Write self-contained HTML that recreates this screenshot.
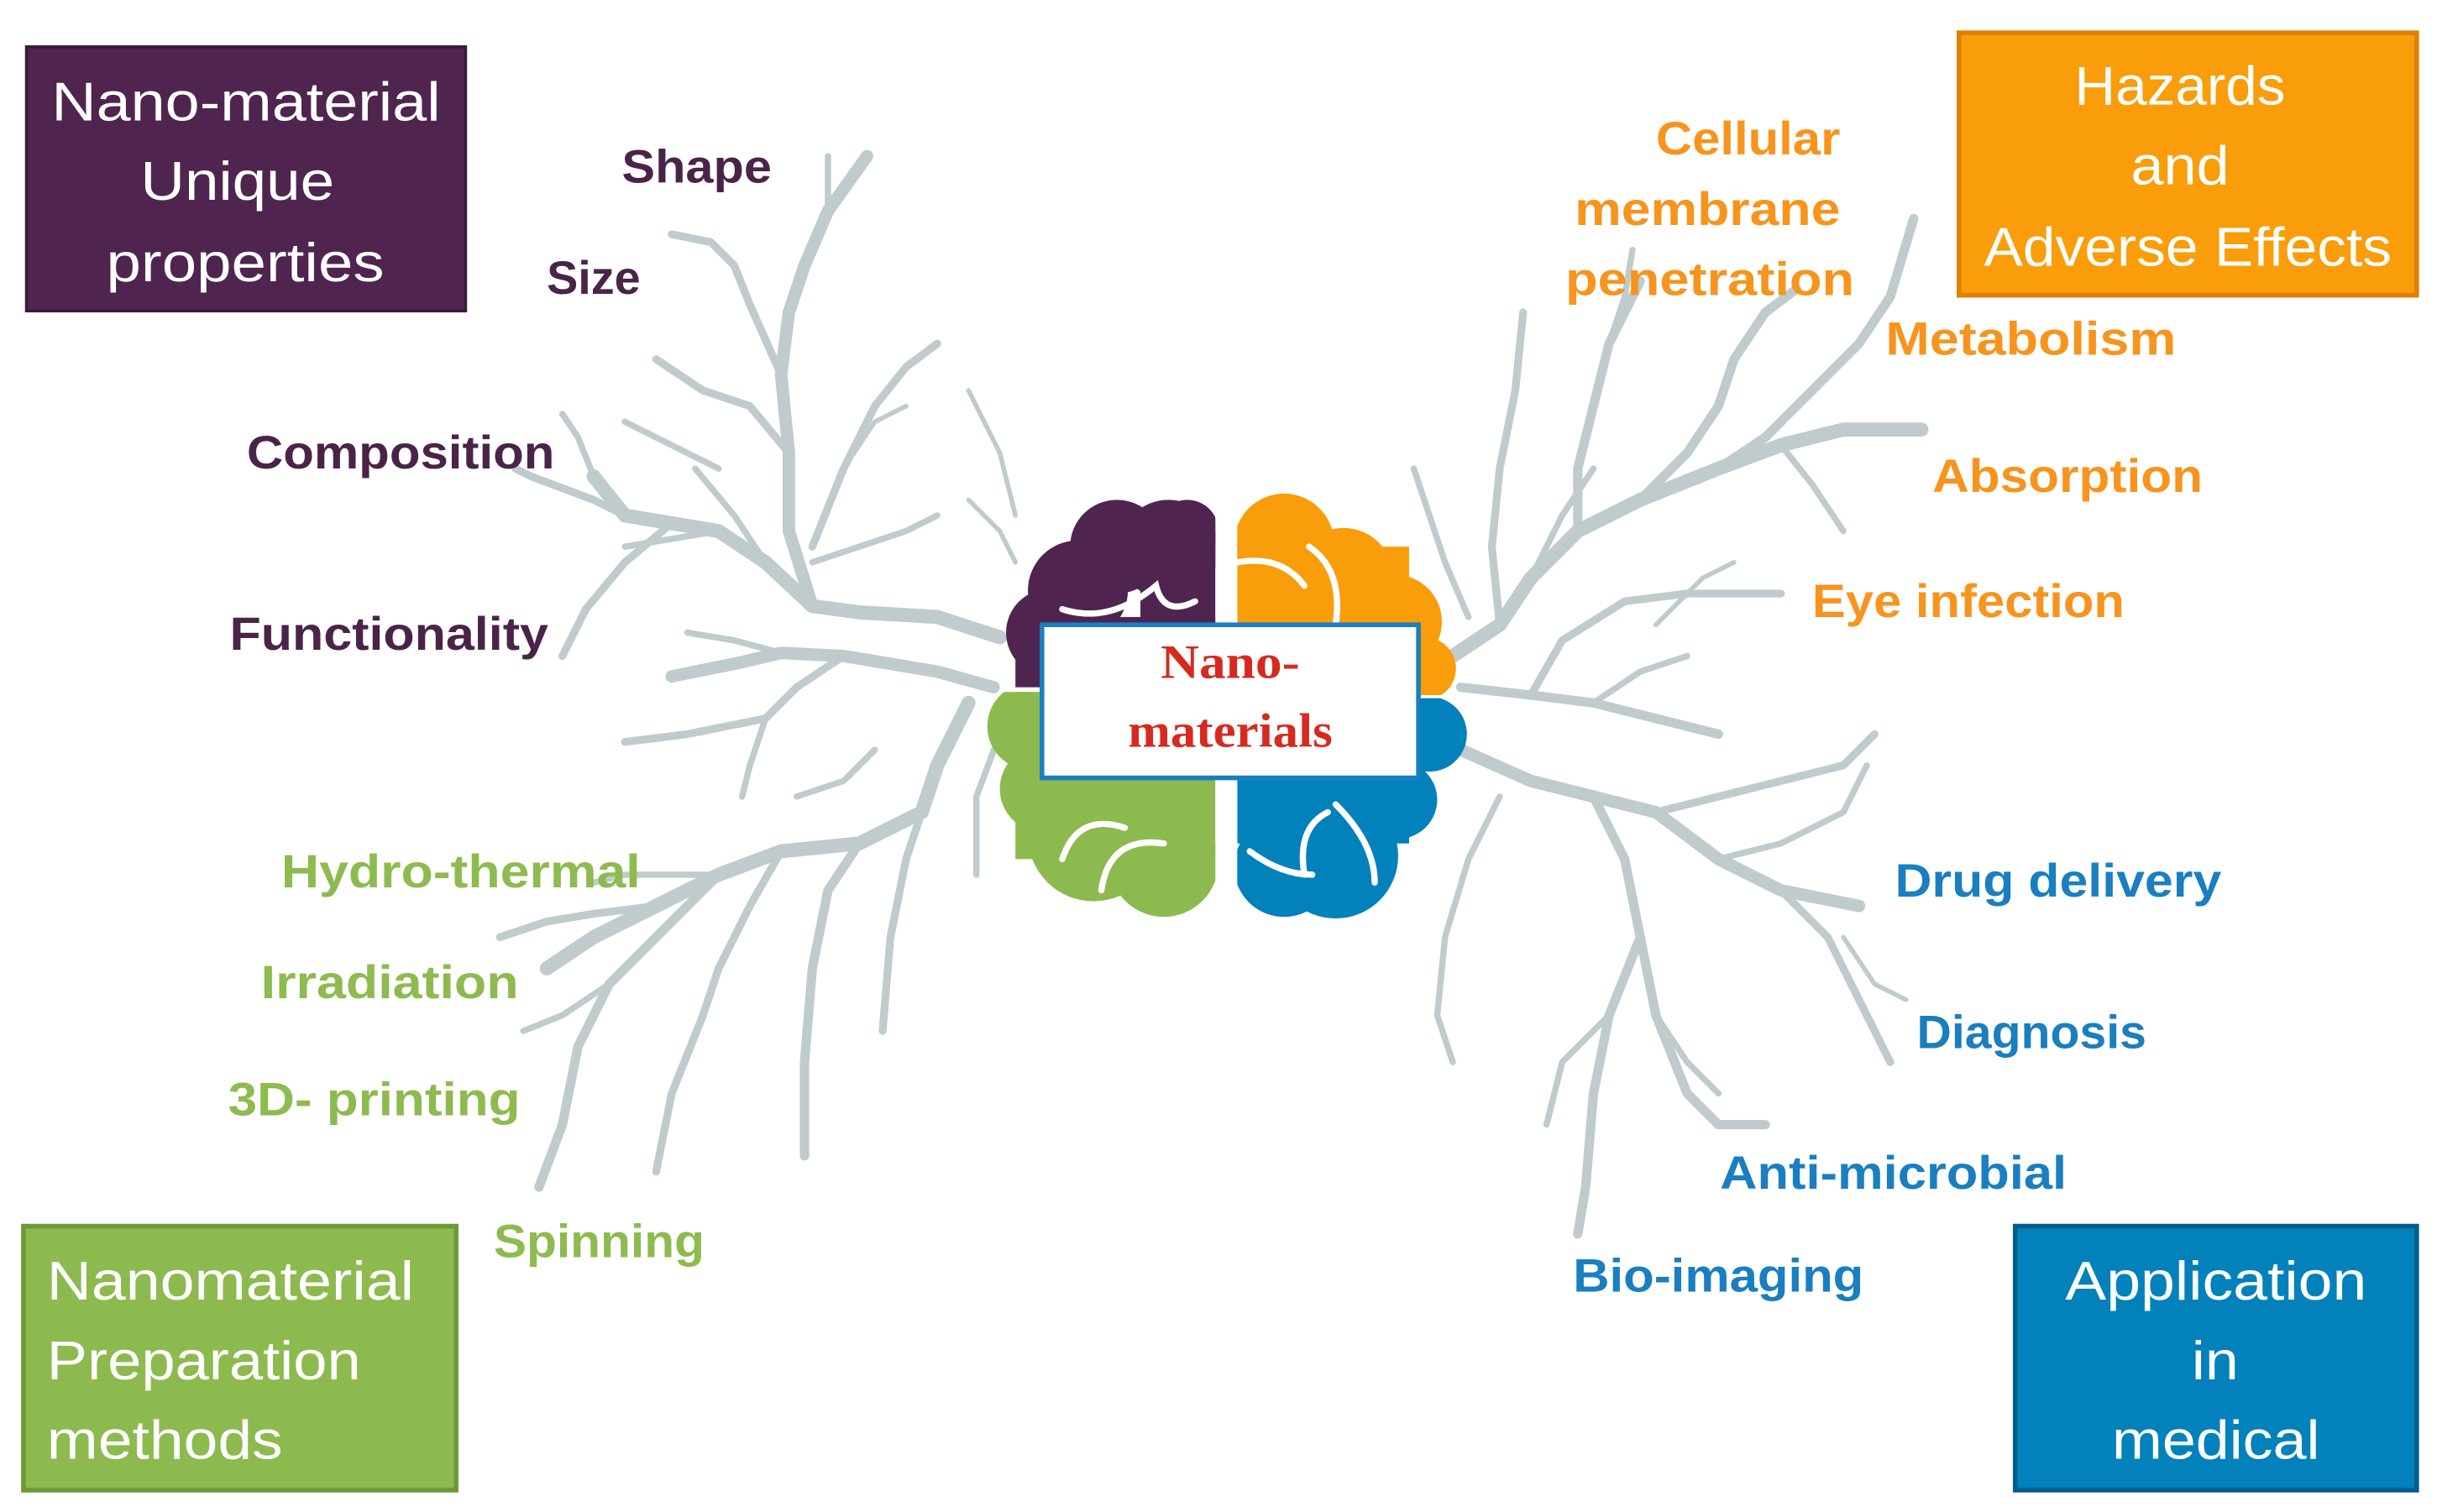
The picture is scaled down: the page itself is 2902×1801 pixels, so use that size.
<!DOCTYPE html>
<html><head><meta charset="utf-8"><style>
html,body{margin:0;padding:0;background:#fff;}
svg{display:block}
text{font-family:"Liberation Sans",sans-serif;font-weight:bold}
.n{font-weight:normal}
</style></head><body>
<svg width="2902" height="1801" viewBox="0 0 1560 968" preserveAspectRatio="none" xmlns="http://www.w3.org/2000/svg">
<g fill="none" stroke="#bfcbcc" stroke-linecap="round" stroke-linejoin="round">
<path d="M640 408 L600 395 L550 392 L520 388 L490 360 L460 340 L430 335 L400 330 L380 305" stroke-width="9"/>
<path d="M520 388 L505 340 L505 290 L500 240 L505 200 L515 170 L530 135 L555 100" stroke-width="8"/>
<path d="M500 240 L480 195 L470 170 L455 155 L430 150" stroke-width="5"/>
<path d="M505 290 L480 260 L450 250 L420 230" stroke-width="5"/>
<path d="M530 135 L530 100" stroke-width="4"/>
<path d="M520 350 L540 300 L560 260 L580 235 L600 220" stroke-width="5"/>
<path d="M540 300 L560 270 L580 260" stroke-width="3"/>
<path d="M520 360 L580 340 L600 330" stroke-width="4"/>
<path d="M400 330 L380 320 L340 305 L330 300" stroke-width="5"/>
<path d="M380 305 L370 280 L360 265" stroke-width="4"/>
<path d="M430 335 L400 360 L375 390 L360 420" stroke-width="5"/>
<path d="M460 340 L430 345 L400 350" stroke-width="4"/>
<path d="M460 300 L420 280 L400 270" stroke-width="4"/>
<path d="M490 360 L470 330 L445 300" stroke-width="4"/>
<path d="M620 320 L640 340 L650 360" stroke-width="3"/>
<path d="M620 250 L640 290 L650 330" stroke-width="3"/>
<path d="M636 440 L600 430 L540 420 L500 418 L470 425 L430 433" stroke-width="8"/>
<path d="M540 420 L510 440 L490 460 L440 470 L400 475" stroke-width="5"/>
<path d="M500 418 L470 410 L440 405" stroke-width="4"/>
<path d="M490 460 L480 490 L475 510" stroke-width="4"/>
<path d="M620 450 L600 490 L590 520 L550 540 L500 545 L460 560 L420 580 L380 600 L350 620" stroke-width="9"/>
<path d="M420 580 L380 585 L350 590 L320 600" stroke-width="5"/>
<path d="M460 560 L430 560 L400 560 L380 565" stroke-width="4"/>
<path d="M460 560 L420 600 L390 630 L370 670 L360 720 L345 760" stroke-width="6"/>
<path d="M390 630 L360 650 L335 660" stroke-width="4"/>
<path d="M500 545 L480 580 L460 620 L450 650 L430 700 L420 750" stroke-width="5"/>
<path d="M550 540 L530 570 L520 620 L515 680 L515 740" stroke-width="6"/>
<path d="M590 520 L580 550 L570 600 L565 660" stroke-width="5"/>
<path d="M560 480 L540 500 L510 510" stroke-width="4"/>
<path d="M640 470 L625 510 L625 560" stroke-width="4"/>
<path d="M930 420 L960 400 L980 370 L1010 340 L1050 320 L1100 300 L1140 285 L1180 275 L1230 275" stroke-width="9"/>
<path d="M1010 340 L1010 300 L1020 260 L1030 220 L1050 180" stroke-width="6"/>
<path d="M1050 320 L1080 290 L1100 260 L1110 230 L1130 200 L1150 185" stroke-width="6"/>
<path d="M1100 300 L1130 280 L1160 250 L1190 220 L1210 190 L1225 140" stroke-width="6"/>
<path d="M1140 285 L1160 310 L1180 340" stroke-width="4"/>
<path d="M960 400 L955 350 L960 300 L970 250 L975 200" stroke-width="5"/>
<path d="M980 370 L1000 330 L1020 300" stroke-width="4"/>
<path d="M940 395 L925 360 L915 330 L905 300" stroke-width="4"/>
<path d="M1030 220 L1040 190 L1045 160" stroke-width="4"/>
<path d="M935 440 L980 445 L1020 450 L1060 460 L1100 470" stroke-width="6"/>
<path d="M980 445 L1000 410 L1040 385 L1080 380 L1140 380" stroke-width="5"/>
<path d="M1020 450 L1050 430 L1080 420" stroke-width="4"/>
<path d="M1060 400 L1090 370 L1110 360" stroke-width="3"/>
<path d="M935 480 L980 500 L1020 510 L1060 520 L1100 550 L1140 570 L1190 580" stroke-width="8"/>
<path d="M1020 510 L1040 550 L1050 600 L1060 650 L1080 700 L1100 720 L1130 720" stroke-width="6"/>
<path d="M1060 520 L1100 510 L1140 500 L1180 490 L1200 470" stroke-width="5"/>
<path d="M1100 550 L1140 540 L1180 520 L1195 490" stroke-width="4"/>
<path d="M1140 570 L1170 600 L1190 640 L1210 680" stroke-width="5"/>
<path d="M1050 600 L1030 650 L1020 700 L1015 760 L1010 790" stroke-width="6"/>
<path d="M1030 650 L1000 680 L990 720" stroke-width="4"/>
<path d="M1060 650 L1080 680 L1100 700" stroke-width="4"/>
<path d="M960 510 L940 550 L925 600 L920 650 L930 680" stroke-width="4"/>
<path d="M1180 600 L1200 630 L1220 640" stroke-width="3"/>
</g>
<defs>
<clipPath id="tl"><rect x="600" y="280" width="178" height="160"/></clipPath>
<clipPath id="tr"><rect x="792" y="280" width="178" height="165"/></clipPath>
<clipPath id="bl"><rect x="600" y="443" width="178" height="160"/></clipPath>
<clipPath id="br"><rect x="792" y="447" width="178" height="160"/></clipPath>
</defs>
<g clip-path="url(#tl)" fill="#4f2550">
<circle cx="748" cy="352" r="32"/><circle cx="715" cy="350" r="30"/><circle cx="690" cy="378" r="32"/><circle cx="672" cy="405" r="28"/>
<rect x="650" y="395" width="128" height="50"/><rect x="730" y="335" width="48" height="110"/><circle cx="760" cy="340" r="20"/>
</g>
<g clip-path="url(#tr)" fill="#f99d0a">
<circle cx="822" cy="348" r="32"/><circle cx="860" cy="370" r="32"/><circle cx="893" cy="398" r="30"/><circle cx="912" cy="428" r="20"/>
<rect x="792" y="350" width="110" height="100"/>
</g>
<g clip-path="url(#bl)" fill="#8dba4f">
<circle cx="660" cy="465" r="28"/><circle cx="668" cy="505" r="28"/><circle cx="700" cy="535" r="42"/><circle cx="745" cy="552" r="35"/>
<rect x="650" y="440" width="128" height="110"/>
</g>
<g clip-path="url(#br)" fill="#0381bb">
<circle cx="915" cy="470" r="24"/><circle cx="895" cy="512" r="25"/><circle cx="855" cy="548" r="40"/><circle cx="822" cy="555" r="32"/>
<rect x="792" y="440" width="110" height="100"/>
</g>
<g fill="none" stroke="#fff" stroke-width="4" stroke-linecap="round">
<path d="M680 390 Q710 400 740 375 Q745 395 765 385"/>
<path d="M792 360 Q820 355 835 375 M838 350 Q860 365 855 400"/>
<path d="M680 550 Q690 520 720 530 M705 570 Q710 535 745 540"/>
<path d="M800 545 Q820 560 840 560 M835 560 Q830 530 850 520 M855 515 Q880 540 880 565"/>
</g>
<rect x="667" y="400" width="241" height="98" fill="#fff" stroke="#1a7fc0" stroke-width="3"/>
<text x="743" y="434" textLength="89" lengthAdjust="spacingAndGlyphs" style="font-family:'Liberation Serif',serif" font-size="31" fill="#d62a20">Nano-</text>
<text x="722" y="478" textLength="131" lengthAdjust="spacingAndGlyphs" style="font-family:'Liberation Serif',serif" font-size="31" fill="#d62a20">materials</text>
<rect x="17" y="30" width="281" height="169" fill="#4f2550" stroke="#3a1a3a" stroke-width="2"/>
<g fill="#fff" font-size="35">
<text class="n" x="33" y="77" textLength="249" lengthAdjust="spacingAndGlyphs">Nano-material</text>
<text class="n" x="90" y="128" textLength="124" lengthAdjust="spacingAndGlyphs">Unique</text>
<text class="n" x="68" y="180" textLength="178" lengthAdjust="spacingAndGlyphs">properties</text>
</g>
<rect x="1254" y="21" width="293" height="168" fill="#f99d0a" stroke="#e07f00" stroke-width="3"/>
<g fill="#fff" font-size="35">
<text class="n" x="1328" y="67" textLength="135" lengthAdjust="spacingAndGlyphs">Hazards</text>
<text class="n" x="1364" y="118" textLength="63" lengthAdjust="spacingAndGlyphs">and</text>
<text class="n" x="1270" y="170" textLength="261" lengthAdjust="spacingAndGlyphs">Adverse Effects</text>
</g>
<rect x="15" y="785" width="277" height="169" fill="#8dba4f" stroke="#6c9a35" stroke-width="3"/>
<g fill="#fff" font-size="35">
<text class="n" x="30" y="832" textLength="235" lengthAdjust="spacingAndGlyphs">Nanomaterial</text>
<text class="n" x="30" y="883" textLength="201" lengthAdjust="spacingAndGlyphs">Preparation</text>
<text class="n" x="30" y="934" textLength="151" lengthAdjust="spacingAndGlyphs">methods</text>
</g>
<rect x="1290" y="785" width="257" height="169" fill="#0381bb" stroke="#035d8c" stroke-width="3"/>
<g fill="#fff" font-size="35">
<text class="n" x="1322" y="832" textLength="193" lengthAdjust="spacingAndGlyphs">Application</text>
<text class="n" x="1403" y="883" textLength="30" lengthAdjust="spacingAndGlyphs">in</text>
<text class="n" x="1352" y="934" textLength="133" lengthAdjust="spacingAndGlyphs">medical</text>
</g>
<g fill="#4a2448" font-size="30">
<text x="398" y="117" textLength="96" lengthAdjust="spacingAndGlyphs">Shape</text>
<text x="350" y="188" textLength="60" lengthAdjust="spacingAndGlyphs">Size</text>
<text x="158" y="300" textLength="197" lengthAdjust="spacingAndGlyphs">Composition</text>
<text x="147" y="416" textLength="204" lengthAdjust="spacingAndGlyphs">Functionality</text>
</g>
<g fill="#f7941d" font-size="30">
<text x="1060" y="99" textLength="118" lengthAdjust="spacingAndGlyphs">Cellular</text>
<text x="1008" y="144" textLength="170" lengthAdjust="spacingAndGlyphs">membrane</text>
<text x="1002" y="189" textLength="185" lengthAdjust="spacingAndGlyphs">penetration</text>
<text x="1207" y="227" textLength="186" lengthAdjust="spacingAndGlyphs">Metabolism</text>
<text x="1237" y="315" textLength="173" lengthAdjust="spacingAndGlyphs">Absorption</text>
<text x="1160" y="395" textLength="200" lengthAdjust="spacingAndGlyphs">Eye infection</text>
</g>
<g fill="#8dbb4f" font-size="30">
<text x="180" y="568" textLength="230" lengthAdjust="spacingAndGlyphs">Hydro-thermal</text>
<text x="167" y="639" textLength="165" lengthAdjust="spacingAndGlyphs">Irradiation</text>
<text x="146" y="714" textLength="187" lengthAdjust="spacingAndGlyphs">3D- printing</text>
<text x="316" y="805" textLength="135" lengthAdjust="spacingAndGlyphs">Spinning</text>
</g>
<g fill="#1a7fc0" font-size="30">
<text x="1213" y="574" textLength="209" lengthAdjust="spacingAndGlyphs">Drug delivery</text>
<text x="1227" y="671" textLength="147" lengthAdjust="spacingAndGlyphs">Diagnosis</text>
<text x="1101" y="761" textLength="222" lengthAdjust="spacingAndGlyphs">Anti-microbial</text>
<text x="1007" y="827" textLength="186" lengthAdjust="spacingAndGlyphs">Bio-imaging</text>
</g>
</svg>
</body></html>
